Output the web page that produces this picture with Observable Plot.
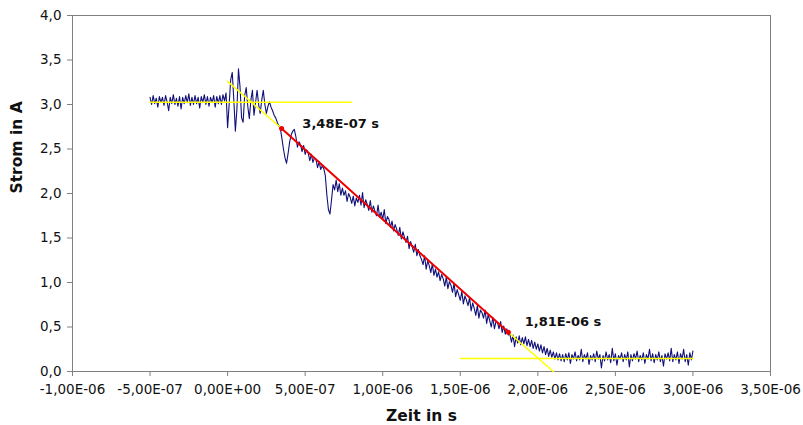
<!DOCTYPE html>
<html>
<head>
<meta charset="utf-8">
<script src="https://cdn.jsdelivr.net/npm/d3@7"></script>
<script src="https://cdn.jsdelivr.net/npm/@observablehq/plot@0.6"></script>
<style>
  html, body { margin: 0; padding: 0; background: #fff; }
</style>
</head>
<body>
<div id="chart"></div>
<script>
// ---- Data ----
const xTicks = [-1e-6, -5e-7, 0, 5e-7, 1e-6, 1.5e-6, 2e-6, 2.5e-6, 3e-6, 3.5e-6];
const yTicks = [0, 0.5, 1, 1.5, 2, 2.5, 3, 3.5, 4];
const sampleStep = 1e-8; // sampling interval of the measured trace (s)

// measured current, segment A: starts at -5,00E-07 s
const segAStart = -5e-7;
const segA = [
  3.08, 3.00, 3.10, 3.01, 3.07, 2.97, 3.09, 3.02, 3.08, 2.99,
  3.10, 3.03, 2.93, 3.08, 3.01, 3.11, 3.00, 3.07, 2.98, 3.09,
  2.95, 3.08, 3.01, 3.10, 3.02, 3.12, 2.99, 3.08, 3.00, 3.10,
  3.01, 3.08, 2.96, 3.09, 3.02, 3.11, 3.00, 3.09, 2.98, 3.08,
  3.02, 3.10, 2.97, 3.09, 3.01, 3.10, 3.00, 3.11, 3.04, 3.13
];
// segment B: oscillation, starts at 0 s
const segBStart = 0;
const segB = [
  2.74, 3.00, 3.28, 3.36, 3.05, 2.70, 2.95, 3.40, 3.20, 2.85,
  2.80, 3.10, 3.19, 2.98, 2.84, 3.05, 3.16, 2.88, 3.02, 3.16,
  3.00, 2.90, 3.05, 3.16, 3.00, 2.90, 2.98, 3.03, 2.97, 2.93,
  2.88, 2.85, 2.80, 2.76, 2.73, 2.62, 2.50, 2.40, 2.34, 2.45,
  2.58, 2.66, 2.70, 2.72
];
// segment C: ramp down, starts at 4,40E-07 s
const segCStart = 4.4e-7;
const segC = [
  2.64, 2.52, 2.58, 2.55, 2.47, 2.54, 2.44, 2.49, 2.45, 2.37,
  2.44, 2.35, 2.40, 2.38, 2.29, 2.36, 2.27, 2.31, 2.28, 2.20,
  1.98, 1.82, 1.77, 1.93, 2.10, 2.04, 2.15, 2.02, 2.11, 1.98,
  2.06, 1.98, 2.03, 1.91, 2.00, 1.96, 1.89, 1.97, 1.86, 1.95,
  1.90, 1.98, 1.87, 2.01, 1.84, 1.93, 1.88, 1.81, 1.92, 1.79,
  1.86, 1.80, 1.75, 1.87, 1.73, 1.79, 1.71, 1.82, 1.66, 1.74,
  1.71, 1.62, 1.69, 1.58, 1.65, 1.60, 1.53, 1.62, 1.49, 1.57,
  1.51, 1.45, 1.52, 1.38, 1.46, 1.40, 1.34, 1.43, 1.30, 1.37,
  1.30, 1.26, 1.20, 1.30, 1.15, 1.24, 1.19, 1.11, 1.21, 1.08,
  1.15, 1.06, 1.12, 1.02, 1.09, 1.04, 0.96, 1.06, 0.93, 1.01,
  0.97, 0.89, 0.99, 0.84, 0.92, 0.86, 0.80, 0.90, 0.76, 0.85,
  0.80, 0.74, 0.83, 0.68, 0.77, 0.71, 0.63, 0.74, 0.60, 0.69,
  0.66, 0.60, 0.69, 0.54, 0.64, 0.57, 0.50, 0.61, 0.48, 0.56,
  0.55, 0.48, 0.56, 0.44, 0.51, 0.42, 0.48, 0.41
];
// segment D: tail, starts at 1,82E-06 s
const segDStart = 1.82e-6;
const segD = [
  0.42, 0.33, 0.41, 0.28, 0.39, 0.32, 0.40, 0.30, 0.38, 0.31,
  0.39, 0.29, 0.36, 0.28, 0.35, 0.26, 0.33, 0.25, 0.31, 0.23,
  0.30, 0.21, 0.28, 0.19, 0.26, 0.17, 0.24, 0.16, 0.22, 0.14,
  0.21, 0.13, 0.20, 0.12, 0.19,
  0.11, 0.20, 0.13, 0.21, 0.09, 0.19, 0.14, 0.22, 0.12, 0.18,
  0.13, 0.25, 0.11, 0.19, 0.14, 0.21, 0.08, 0.18, 0.13, 0.20,
  0.11, 0.23, 0.14, 0.19, 0.04, 0.18, 0.12, 0.22, 0.13, 0.19,
  0.10, 0.26, 0.12, 0.20, 0.07, 0.18, 0.14, 0.21, 0.11, 0.19,
  0.13, 0.22, 0.05, 0.19, 0.12, 0.20, 0.14, 0.23, 0.11, 0.18,
  0.13, 0.21, 0.09, 0.19, 0.14, 0.25, 0.12, 0.20, 0.10, 0.19,
  0.13, 0.22, 0.11, 0.18, 0.06, 0.20, 0.14, 0.21, 0.12, 0.26,
  0.11, 0.19, 0.13, 0.22, 0.09, 0.20, 0.14, 0.25, 0.11, 0.19,
  0.07, 0.21, 0.13, 0.23
];

// fitted / construction lines
const yellowTopX = [-5e-7, 8e-7];       const yellowTopY = [3.025, 3.025];
const yellowSlope1X = [0, 3.48e-7];     const yellowSlope1Y = [3.26, 2.73];
const redFitX = [3.48e-7, 1.81e-6];     const redFitY = [2.73, 0.44];
const yellowSlope2X = [1.81e-6, 2.1e-6]; const yellowSlope2Y = [0.44, 0.0];
const yellowBottomX = [1.5e-6, 3e-6];   const yellowBottomY = [0.145, 0.145];

// annotations
const annX = [4.82e-7, 1.915e-6];
const annY = [2.78, 0.554];
const annText = ["3,48E-07 s", "1,81E-06 s"];

// ---- build tables ----
function seg(start, vals) { return vals.map((v, i) => ({t: start + i * sampleStep, a: v})); }
const trace = [].concat(seg(segAStart, segA), seg(segBStart, segB), seg(segCStart, segC), seg(segDStart, segD));
const pts = (xs, ys) => xs.map((x, i) => ({t: x, a: ys[i]}));
const ann = annX.map((x, i) => ({t: x, a: annY[i], s: annText[i]}));

function fmtE(v) {
  const [m, e] = v.toExponential(2).split("e");
  const sign = e[0] === "-" ? "-" : "+";
  return m.replace(".", ",") + "E" + sign + String(Math.abs(+e)).padStart(2, "0");
}
const fmtY = v => v.toFixed(1).replace(".", ",");

const gray = "#808080";
const chart = Plot.plot({
  width: 803,
  height: 425,
  marginLeft: 72,
  marginRight: 33,
  marginTop: 15,
  marginBottom: 54,
  style: {fontFamily: "DejaVu Sans", fontSize: "13.5px", background: "#fff", color: "#111"},
  x: {domain: [-1e-6, 3.5e-6]},
  y: {domain: [0, 4]},
  marks: [
    Plot.frame({stroke: gray}),
    Plot.axisX({ticks: xTicks, tickFormat: fmtE, tickSize: 5, tickPadding: 8, stroke: gray, fill: "#111", label: null}),
    Plot.axisY({ticks: yTicks, tickFormat: fmtY, tickSize: 5, tickPadding: 6, stroke: gray, fill: "#111", label: null}),
    Plot.line(trace, {x: "t", y: "a", stroke: "#10107a", strokeWidth: 1.1}),
    Plot.line(pts(yellowTopX, yellowTopY), {x: "t", y: "a", stroke: "#ffff00", strokeWidth: 1.5}),
    Plot.line(pts(yellowSlope1X, yellowSlope1Y), {x: "t", y: "a", stroke: "#ffff00", strokeWidth: 1.5}),
    Plot.line(pts(yellowSlope2X, yellowSlope2Y), {x: "t", y: "a", stroke: "#ffff00", strokeWidth: 1.5}),
    Plot.line(pts(yellowBottomX, yellowBottomY), {x: "t", y: "a", stroke: "#ffff00", strokeWidth: 1.5}),
    Plot.line(pts(redFitX, redFitY), {x: "t", y: "a", stroke: "#ee0000", strokeWidth: 2}),
    Plot.dot(pts(redFitX, redFitY), {x: "t", y: "a", fill: "#ee0000", r: 2.5}),
    Plot.text(ann, {x: "t", y: "a", text: "s", textAnchor: "start", lineAnchor: "middle", fontWeight: "bold", fontSize: 13, fill: "#111"}),
    Plot.text(["Strom in A"], {frameAnchor: "left", dx: -55, rotate: -90, fontWeight: "bold", fontSize: 15.5, fill: "#111"}),
    Plot.text(["Zeit in s"], {frameAnchor: "bottom", dy: 45, lineAnchor: "middle", fontWeight: "bold", fontSize: 15.5, fill: "#111"})
  ]
});
document.getElementById("chart").appendChild(chart);
</script>
</body>
</html>
